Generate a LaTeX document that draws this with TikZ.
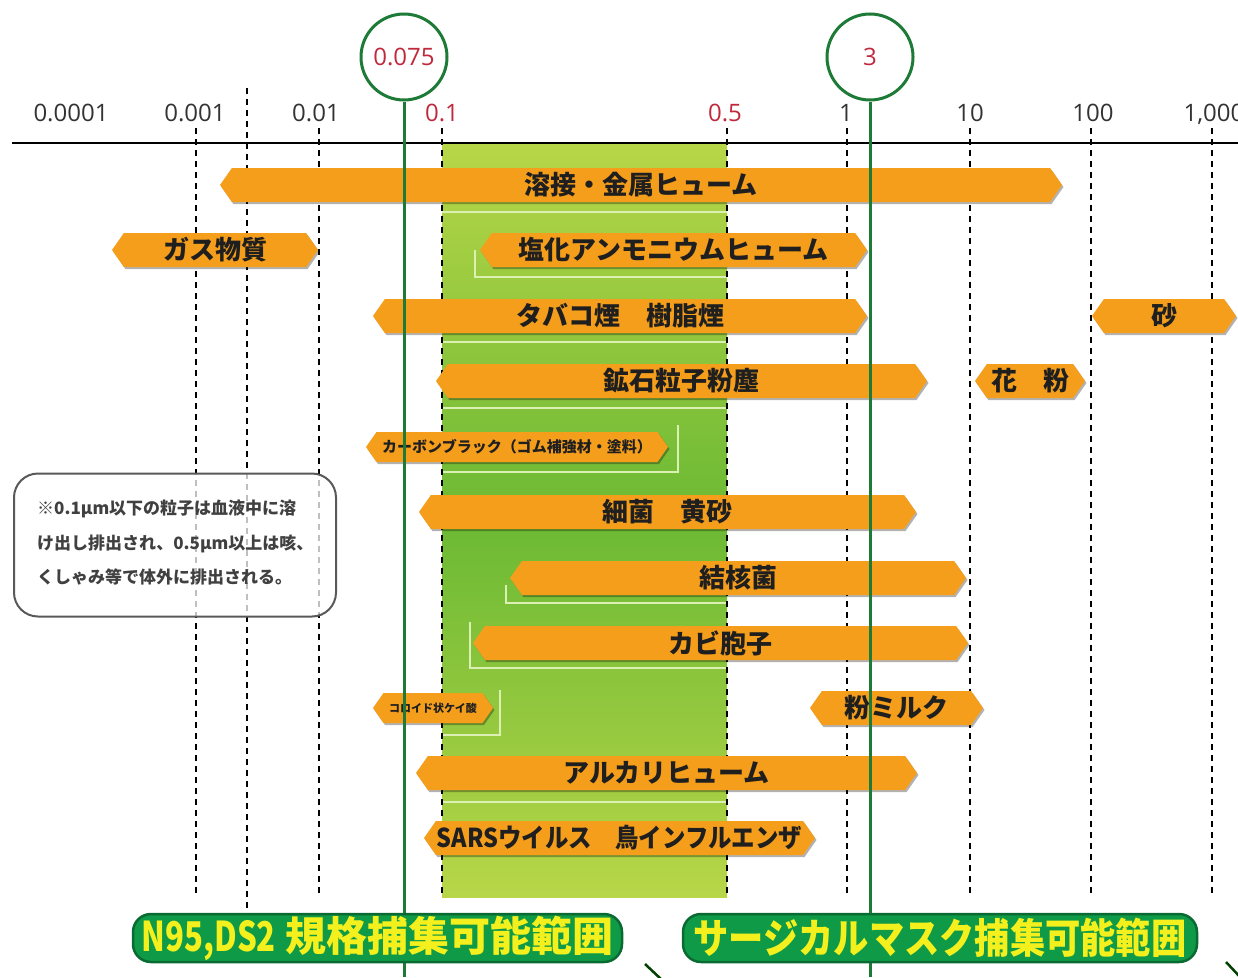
\documentclass[tikz,border=0pt]{standalone}
\usepackage{fontspec}
\setmainfont{Open Sans}
\newfontfamily\jp{Noto Sans CJK JP}
\usetikzlibrary{positioning}
\usetikzlibrary{calc}
\usetikzlibrary{shapes.symbols}
\usetikzlibrary{shadows}

\begin{document}
\begin{tikzpicture}[x=1pt, y=-1pt]
    \definecolor{barfill}{HTML}{F59E1C}
\definecolor{greenline}{HTML}{1E7A37}
\definecolor{redlabel}{HTML}{C0283C}
\definecolor{boxgreen}{HTML}{0E9A47}
\definecolor{boxborder}{HTML}{0A6B32}
\definecolor{boxtext}{HTML}{F4F01E}
\definecolor{zonelight}{HTML}{B8D648}
\definecolor{zonedark}{HTML}{6BB934}
\definecolor{glint}{HTML}{DDF0B4}
\colorlet{ticktext}{black!80}
\colorlet{bartext}{black!88}
\colorlet{notegray}{black!65}
\colorlet{stub}{black!75!green}

\newcommand\axisy{143}
\newcommand\gridtop{128}
\newcommand\gridbottom{897}
\newcommand\barheight{34}

\tikzset{
    grid line/.style={black, line width=1.4, dash pattern=on 6pt off 5pt},
    tick label/.style={
        anchor=base, text=ticktext, inner sep=0pt,
        font=\fontsize{24}{24}\selectfont,
    },
    size ring/.style={
        circle, draw=greenline, line width=3,
        minimum size=86, inner sep=0pt,
        text=redlabel, font=\fontsize{24}{24}\selectfont,
    },
    size line/.style={greenline, line width=3},
    glint line/.style={glint, line width=1.5},
    bar/.style={
        shape=signal, signal to=west and east,
        signal pointer angle=110,
        fill=barfill, inner sep=0pt,
        minimum height=\barheight,
        text=bartext,
        font=\jp\bfseries\fontsize{26}{26}\selectfont,
        drop shadow={shadow xshift=1.5pt, shadow yshift=-2pt,
            opacity=.3, fill=black},
    },
    small bar/.style={bar, minimum height=30},
    note box/.style={
        draw=notegray, line width=2,
        rounded corners=24,
        fill=white, fill opacity=.75,
        minimum width=322, minimum height=143,
    },
    note text/.style={
        anchor=west, align=left, inner sep=0pt,
        text=black!75,
        font=\jp\bfseries\fontsize{17}{34.5}\selectfont,
    },
    mask box/.style={
        fill=boxgreen, draw=boxborder, line width=2.5,
        rounded corners=18,
        minimum height=48, inner sep=0pt,
        text=boxtext,
        font=\jp\bfseries\fontsize{41}{41}\selectfont,
    },
    arrow stub/.style={stub, line width=2.5},
}

\useasboundingbox (0, 0) rectangle (1238, 977);

% band between 0.1 and 0.5
\shade[top color=zonelight, bottom color=zonelight, middle color=zonedark]
    (442, \axisy) rectangle (727, \gridbottom);

\draw[glint line] (442, 212) -- (727, 212);
\draw[glint line] (475, 250) -- (475, 277) -- (727, 277);
\draw[glint line] (442, 342) -- (727, 342);
\draw[glint line] (442, 408) -- (727, 408);
\draw[glint line] (678, 425) -- (678, 472) -- (442, 472);
\draw[glint line] (506, 585) -- (506, 603) -- (727, 603);
\draw[glint line] (470, 622) -- (470, 668) -- (727, 668);
\draw[glint line] (500, 690) -- (500, 735) -- (442, 735);
\draw[glint line] (442, 802) -- (727, 802);

\draw[grid line] (196, \gridtop) -- (196, \gridbottom);
\draw[grid line] (247, 88) -- (247, 915);
\draw[grid line] (319, \gridtop) -- (319, \gridbottom);
\draw[grid line] (442, \gridtop) -- (442, \gridbottom);
\draw[grid line] (727, \gridtop) -- (727, \gridbottom);
\draw[grid line] (847, \gridtop) -- (847, \gridbottom);
\draw[grid line] (970, \gridtop) -- (970, \gridbottom);
\draw[grid line] (1091, \gridtop) -- (1091, \gridbottom);
\draw[grid line] (1212, \gridtop) -- (1212, \gridbottom);

\draw[black, line width=2.5] (12, \axisy) -- (1238, \axisy);

\node[tick label] (t-0001) at (71, 121) {0.0001};
\node[tick label] (t-001) at (195, 121) {0.001};
\node[tick label] (t-01) at (316, 121) {0.01};
\node[tick label, text=redlabel] (t-1) at (442, 121) {0.1};
\node[tick label, text=redlabel] (t-5) at (725, 121) {0.5};
\node[tick label] (t-one) at (846, 121) {1};
\node[tick label] (t-ten) at (970, 121) {10};
\node[tick label] (t-hundred) at (1093, 121) {100};
\node[tick label] (t-thousand) at (1214, 121) {1,000};

% particle ranges
\node[bar, minimum width=842] (weld) at (641, 185) {溶接・金属ヒューム};
\node[bar, minimum width=206] (gas) at (215, 250) {ガス物質};
\node[bar, minimum width=387] (ammonium) at (673.5, 250) {塩化アンモニウムヒューム};
\node[bar, minimum width=494] (tobacco) at (620, 316) {タバコ煙　樹脂煙};
\node[bar, minimum width=144] (sand) at (1164, 316) {砂};
\node[bar, minimum width=491] (ore) at (681.5, 381) {鉱石粒子粉塵};
\node[bar, minimum width=110] (pollen) at (1030, 381) {花　粉};
\node[small bar, minimum width=302,
    font=\jp\bfseries\fontsize{15}{15}\selectfont]
    (carbon) at (517, 447) {カーボンブラック（ゴム補強材・塗料）};
\node[bar, minimum width=497] (bacteria) at (667.5, 512) {細菌　黄砂};
\node[bar, minimum width=456] (tuberculosis) at (738, 578) {結核菌};
\node[bar, minimum width=495] (mold) at (720.5, 643) {カビ胞子};
\node[small bar, minimum width=120,
    font=\jp\bfseries\fontsize{11}{11}\selectfont]
    (silica) at (433, 708) {コロイド状ケイ酸};
\node[bar, minimum width=173] (milk) at (896.5, 708) {粉ミルク};
\node[bar, minimum width=501] (alkali) at (666.5, 773) {アルカリヒューム};
\node[bar, minimum width=391] (virus) at (619.5, 838)
    {\scalebox{0.9}[1]{SARSウイルス　鳥インフルエンザ}};

% filter limits
\node[size ring] (ring-075) at (404, 57) {0.075};
\node[size ring] (ring-3) at (870, 57) {3};
\coordinate (ring-075-foot) at (404, 977);
\coordinate (ring-3-foot) at (870, 977);
\draw[size line] (ring-075) -- (ring-075-foot);
\draw[size line] (ring-3) -- (ring-3-foot);

\node[note box] (note) at (175, 545) {};
\node[note text] (note-text) at (37, 543)
    {※0.1μm以下の粒子は血液中に溶\\け出し排出され、0.5μm以上は咳、\\くしゃみ等で体外に排出される。};

\node[mask box, minimum width=489] (n95) at (377.5, 938)
    {\scalebox{0.76}[1]{N95,DS2} 規格捕集可能範囲};
\node[mask box, minimum width=514] (surgical) at (940, 938)
    {\scalebox{0.86}[1]{サージカルマスク捕集可能範囲}};

\coordinate (n95-stub-a) at (645, 964);
\coordinate (n95-stub-b) at (662, 980);
\coordinate (surgical-stub-a) at (1226, 962);
\coordinate (surgical-stub-b) at (1241, 978);
\draw[arrow stub] (n95-stub-a) -- (n95-stub-b);
\draw[arrow stub] (surgical-stub-a) -- (surgical-stub-b);
\end{tikzpicture}
\end{document}
